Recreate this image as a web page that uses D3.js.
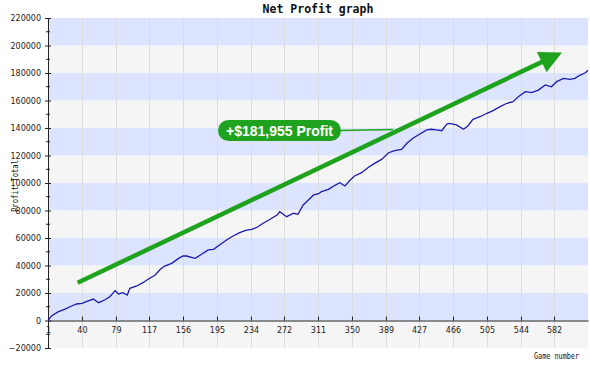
<!DOCTYPE html>
<meta charset="utf-8">
<script src="https://d3js.org/d3.v7.min.js"></script>
<style>
body { margin: 0; background: #fff; }
.tick text { font: 8px "DejaVu Sans", Verdana, sans-serif; fill: #222; }
.mono { font-family: "DejaVu Sans Mono", monospace; fill: #111; }
</style>
<svg width="590" height="366"></svg>
<script>

// game number / cumulative profit
var games = [1, 5, 13, 20, 28, 34, 40, 45, 53, 59, 66, 72, 78, 82, 87, 92, 95, 103, 110, 116,
  124, 130, 135, 143, 151, 156, 160, 170, 176, 185, 191, 198, 206, 212, 221, 229, 235, 241, 248, 256,
  264, 267, 275, 283, 288, 294, 300, 306, 311, 315, 323, 331, 336, 342, 348, 353, 361, 369, 376, 384,
  392, 399, 407, 413, 420, 428, 436, 441, 447, 453, 459, 462, 470, 478, 483, 489, 497, 505, 512, 520,
  528, 535, 541, 549, 556, 564, 572, 579, 585, 593, 600, 606, 612, 618, 621];
var profit = [0, 3300, 6400, 8150, 10550, 12000, 12500, 13700, 15600, 12950, 14900, 17300, 21700, 19300, 20200, 18550, 23400, 25100, 27500, 30000,
  33100, 37200, 39600, 41600, 45200, 46900, 46900, 45200, 47600, 51300, 51800, 54900, 58500, 60900, 63900, 65800, 66300, 67800, 70700, 73600,
  76700, 79100, 75500, 78000, 77200, 84000, 87600, 91300, 92000, 93700, 95400, 98500, 100200, 97800, 102200, 105100, 107500, 111400, 114300, 117200,
  122000, 123500, 124500, 128900, 132500, 135600, 138600, 139100, 138600, 138000, 142900, 143400, 142200, 139100, 141500, 146300, 148200, 150700, 152600, 155500,
  158000, 159100, 162800, 166400, 165700, 167600, 171300, 170000, 173700, 176100, 175400, 176100, 178500, 180200, 181955];

var xTicks = [1, 40, 79, 117, 156, 195, 234, 272, 311, 350, 389, 427, 466, 505, 544, 582];
var yTicks = [-20000, 0, 20000, 40000, 60000, 80000, 100000, 120000, 140000, 160000, 180000, 200000, 220000];
var yMinor = [-10000, 10000, 30000, 50000, 70000, 90000, 110000, 130000, 150000, 170000, 190000, 210000];

// arrow annotation (game, profit) and label
var arrowFrom = [35, 27400], arrowTo = [584, 193000];
var totalLabel = "+$181,955 Profit";

var svg = d3.select("svg");

var x = d3.scaleLinear().domain([1, 621]).range([48, 588]);
var y = d3.scaleLinear().domain([-20000, 220000]).range([348, 18]);

// alternating bands
var bands = yTicks.slice(0, -1);
svg.append("g").selectAll("rect")
  .data(bands)
  .enter().append("rect")
    .attr("x", x(1))
    .attr("width", x(621) - x(1))
    .attr("y", function(d) { return y(d + 20000); })
    .attr("height", function(d) { return y(d) - y(d + 20000); })
    .attr("fill", function(d, i) { return i % 2 == 0 ? "#f5f5f5" : "#dde4ff"; });

// vertical grid
svg.append("g").selectAll("line")
  .data(xTicks.slice(1))
  .enter().append("line")
    .attr("x1", function(d) { return Math.round(x(d)) + 0.5; })
    .attr("x2", function(d) { return Math.round(x(d)) + 0.5; })
    .attr("y1", y(220000))
    .attr("y2", y(-20000))
    .attr("stroke", "#dcdcdc")
    .attr("stroke-width", 1);

// y axis
var yAxis = svg.append("g")
    .attr("transform", "translate(" + x(1) + ",0)")
    .call(d3.axisLeft(y).tickValues(yTicks).tickSize(3).tickPadding(4).tickFormat(d3.format("d")));
yAxis.select(".domain").attr("stroke", "#222");
yAxis.selectAll(".tick line").attr("x2", -3).attr("x1", 3).attr("stroke", "#222");

svg.append("g").selectAll("line")
  .data(yMinor)
  .enter().append("line")
    .attr("x1", x(1) - 2)
    .attr("x2", x(1) + 2)
    .attr("y1", function(d) { return y(d); })
    .attr("y2", function(d) { return y(d); })
    .attr("stroke", "#222");

// x axis along zero
var xAxis = svg.append("g")
    .attr("transform", "translate(0," + y(0) + ")")
    .call(d3.axisBottom(x).tickValues(xTicks).tickSize(0).tickPadding(7));
xAxis.select(".domain").attr("stroke", "#222");
xAxis.selectAll(".tick").append("line")
    .attr("y1", -4).attr("y2", 0).attr("stroke", "#222");

// profit line
var line = d3.line()
    .x(function(d, i) { return x(games[i]); })
    .y(function(d) { return y(d); });

svg.append("path")
    .datum(profit)
    .attr("d", line)
    .attr("fill", "none")
    .attr("stroke", "#1b1bab")
    .attr("stroke-width", 1.3);

// green arrow
var green = "#1fa31f";
svg.append("defs").append("marker")
    .attr("id", "head")
    .attr("viewBox", "0 0 10 10")
    .attr("refX", 2).attr("refY", 5)
    .attr("markerWidth", 5.2).attr("markerHeight", 5)
    .attr("markerUnits", "strokeWidth")
    .attr("orient", "auto")
  .append("path")
    .attr("d", "M0,0L10,5L0,10z")
    .attr("fill", green);

svg.append("line")
    .attr("x1", x(arrowFrom[0])).attr("y1", y(arrowFrom[1]))
    .attr("x2", x(arrowTo[0]) - 10).attr("y2", y(arrowTo[1]) + 5)
    .attr("stroke", green)
    .attr("stroke-width", 4.5)
    .attr("marker-end", "url(#head)");

// label pill
svg.append("line")
    .attr("x1", 340).attr("y1", 130.5)
    .attr("x2", 393).attr("y2", 129.5)
    .attr("stroke", green)
    .attr("stroke-width", 1.5);

svg.append("rect")
    .attr("x", 218).attr("y", 120)
    .attr("width", 123).attr("height", 21)
    .attr("rx", 10.5)
    .attr("fill", green);

svg.append("text")
    .attr("x", 279.5).attr("y", 135.5)
    .attr("text-anchor", "middle")
    .style("font", "bold 14px 'Liberation Sans', Arial, sans-serif")
    .attr("fill", "#fff")
    .text(totalLabel);

// titles
svg.append("text")
    .attr("class", "mono")
    .attr("x", 318).attr("y", 13)
    .attr("text-anchor", "middle")
    .style("font-size", "11.5px")
    .style("font-weight", "bold")
    .text("Net Profit graph");

svg.append("text")
    .attr("class", "mono")
    .attr("x", 579).attr("y", 359)
    .attr("text-anchor", "end")
    .style("font-size", "8px")
    .attr("textLength", 45)
    .attr("lengthAdjust", "spacingAndGlyphs")
    .text("Game number");

svg.append("text")
    .attr("class", "mono")
    .attr("transform", "translate(18,186) rotate(-90)")
    .attr("text-anchor", "middle")
    .style("font-size", "8px")
    .attr("textLength", 52)
    .attr("lengthAdjust", "spacingAndGlyphs")
    .text("Profit Total");

</script>
